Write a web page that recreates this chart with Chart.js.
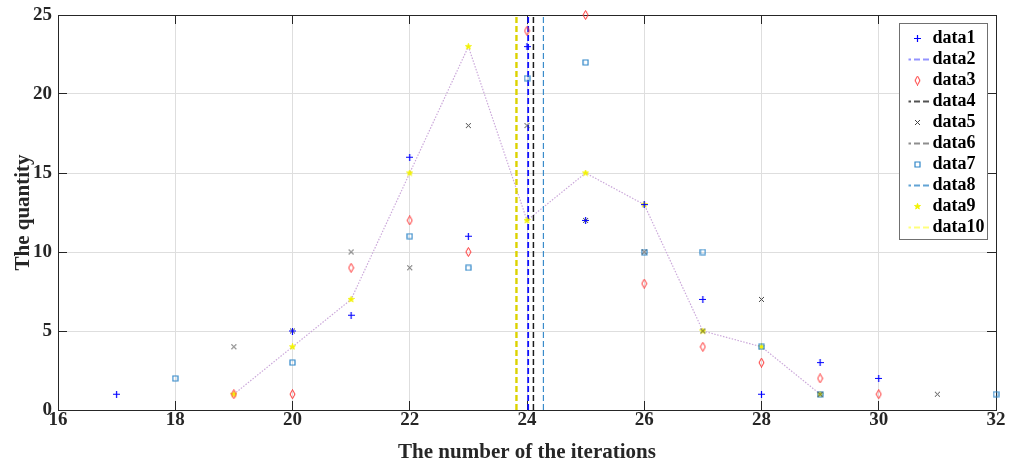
<!DOCTYPE html>
<html>
<head>
<meta charset="utf-8">
<script src="https://cdn.jsdelivr.net/npm/chart.js@4"></script>
<style>
  html, body { margin: 0; padding: 0; background: #fff; }
</style>
</head>
<body>
<canvas id="iterations-chart" width="1013" height="468"></canvas>
<script>
// Values

const data1X = [17, 20, 21, 22, 23, 24, 25, 26, 27, 28, 29, 30];
const data1Y = [1, 5, 6, 16, 11, 23, 12, 13, 7, 1, 3, 2];

const data3X = [19, 20, 21, 22, 23, 24, 25, 26, 27, 28, 29, 30];
const data3Y = [1, 1, 9, 12, 10, 24, 25, 8, 4, 3, 2, 1];

const data5X = [19, 20, 21, 22, 23, 24, 25, 26, 27, 28, 29, 31];
const data5Y = [4, 5, 10, 9, 18, 18, 12, 10, 5, 7, 1, 1];

const data7X = [18, 20, 22, 23, 24, 25, 26, 27, 28, 29, 32];
const data7Y = [2, 3, 11, 9, 21, 22, 10, 10, 4, 1, 1];

const data9X = [19, 20, 21, 22, 23, 24, 25, 26, 27, 28, 29];
const data9Y = [1, 4, 7, 15, 23, 12, 15, 13, 5, 4, 1];

// vertical reference lines (x position of each)
const data2X = 24.02;
const data4X = 24.11;
const data6X = 24.11;
const data8X = 24.28;
const data10X = 23.82;
const lineSpan = [0, 25];

const xTicks = { min: 16, max: 32, step: 2 };
const yTicks = { min: 0, max: 25, step: 5 };

// helpers

const pts = (xs, ys) => xs.map((x, i) => ({ x: x, y: ys[i] }));
const vline = (x) => lineSpan.map((y) => ({ x: x, y: y }));

function marker(kind, color, w, h, lw) {
  const c = document.createElement("canvas");
  c.width = w;
  c.height = h;
  const g = c.getContext("2d");
  g.strokeStyle = color;
  g.fillStyle = color;
  g.lineWidth = lw || 1;
  const cx = w / 2, cy = h / 2;
  g.beginPath();
  if (kind === "plus") {
    g.moveTo(0, cy); g.lineTo(w, cy);
    g.moveTo(cx, 0); g.lineTo(cx, h);
  } else if (kind === "cross") {
    g.moveTo(1, 1); g.lineTo(w - 1, h - 1);
    g.moveTo(w - 1, 1); g.lineTo(1, h - 1);
  } else if (kind === "diamond") {
    g.moveTo(cx, 0.5); g.lineTo(w - 1, cy);
    g.lineTo(cx, h - 0.5); g.lineTo(1, cy);
    g.closePath();
  } else if (kind === "square") {
    g.rect(1, 1, w - 2, h - 2);
  } else if (kind === "star") {
    const r = w / 2 - 0.3, ri = r * 0.42;
    for (let i = 0; i < 10; i++) {
      const rr = i % 2 ? ri : r;
      const a = -Math.PI / 2 + i * Math.PI / 5;
      g.lineTo(cx + rr * Math.cos(a), cy + rr * Math.sin(a));
    }
    g.closePath();
    g.fill();
  } else if (kind === "dash") {
    g.setLineDash([6, 3]);
    g.moveTo(0, cy); g.lineTo(w, cy);
  }
  g.stroke();
  return c;
}

const serif = "'Liberation Serif', 'Times New Roman', serif";
const ink = "#262626";

const scatterSet = (label, data, icon) => ({
  label: label,
  data: data,
  pointStyle: icon,
  pointRadius: 3,
  pointHoverRadius: 3,
  showLine: false,
  clip: false,
  order: 0,
});

const lineSet = (label, x, color, width, icon) => ({
  label: label,
  data: vline(x),
  showLine: true,
  borderColor: color,
  borderWidth: width,
  borderDash: [6, 3],
  pointRadius: 0,
  pointStyle: icon,
  order: 1,
});

const datasets = [
  scatterSet("data1", pts(data1X, data1Y), marker("plus", "#0000ff", 7, 7, 1.2)),
  lineSet("data2", data2X, "#1010ff", 1.8, marker("dash", "#7070ff", 25, 4, 1.4)),
  scatterSet("data3", pts(data3X, data3Y), marker("diamond", "#ff3030", 7, 10, 1)),
  lineSet("data4", data4X, "#1a1a1a", 1.3, marker("dash", "#1a1a1a", 25, 4, 1.4)),
  scatterSet("data5", pts(data5X, data5Y), marker("cross", "#444444", 7, 7, 1)),
  lineSet("data6", data6X, "#555555", 1.3, marker("dash", "#6a6a6a", 25, 4, 1.4)),
  scatterSet("data7", pts(data7X, data7Y), marker("square", "#2f86c8", 7, 7, 1.2)),
  lineSet("data8", data8X, "#3a8ccb", 1.2, marker("dash", "#2f86c8", 25, 4, 1.4)),
  scatterSet("data9", pts(data9X, data9Y), marker("star", "#f2f200", 7, 7, 0.8)),
  lineSet("data10", data10X, "#dcd200", 2.4, marker("dash", "#ffff50", 25, 4, 1.4)),
  {
    label: "trend",
    data: pts(data9X, data9Y),
    showLine: true,
    borderColor: "#cba8da",
    borderWidth: 1.2,
    borderDash: [1.5, 1.5],
    pointRadius: 0,
    order: 2,
  },
];

// legend sits inside the plot, top right, with a framed white box
const legendInside = {
  id: "legendInside",
  afterLayout(chart) {
    const area = chart.chartArea;
    const lg = chart.legend;
    lg.left = area.right - 87.5;
    lg.top = area.top + 11.5;
    lg.right = area.right;
    lg.bottom = area.top + 250;
    lg.width = lg.right - lg.left;
    lg.height = lg.bottom - lg.top;
  },
  afterDatasetsDraw(chart) {
    const area = chart.chartArea;
    const ctx = chart.ctx;
    ctx.save();
    ctx.fillStyle = "#ffffff";
    ctx.strokeStyle = "#707070";
    ctx.lineWidth = 1;
    ctx.fillRect(area.right - 97, area.top + 8, 88, 216);
    ctx.strokeRect(area.right - 96.5, area.top + 8.5, 88, 216);
    ctx.restore();
    chart.legend.draw();
  },
};

const noEdgePadding = (s) => {
  s.paddingTop = 0;
  s.paddingBottom = 0;
  s.paddingLeft = 0;
  s.paddingRight = 0;
};

new Chart(document.getElementById("iterations-chart"), {
  type: "scatter",
  data: { datasets: datasets },
  plugins: [legendInside],
  options: {
    responsive: false,
    animation: false,
    devicePixelRatio: 1,
    layout: { padding: 0 },
    plugins: {
      tooltip: { enabled: false },
      legend: {
        position: "chartArea",
        align: "start",
        labels: {
          usePointStyle: true,
          boxWidth: 12,
          boxHeight: 12,
          padding: 3,
          textAlign: "left",
          color: "#000",
          font: { family: serif, weight: "bold", size: 18 },
          filter: (item) => item.datasetIndex < 10,
          sort: (a, b) => a.datasetIndex - b.datasetIndex,
        },
      },
    },
    scales: {
      x: {
        type: "linear",
        position: "bottom",
        min: xTicks.min,
        max: xTicks.max,
        ticks: { stepSize: xTicks.step, color: ink, padding: 8, font: { family: serif, weight: "bold", size: 19 } },
        grid: { color: "#dedede", tickColor: ink, tickLength: -9 },
        border: { color: ink },
        title: {
          display: true,
          text: "The number of the iterations",
          color: ink,
          padding: { top: 0, bottom: 3 },
          font: { family: serif, weight: "bold", size: 21 },
        },
        afterFit: (s) => { s.height = 58; noEdgePadding(s); },
      },
      y: {
        type: "linear",
        position: "left",
        min: yTicks.min,
        max: yTicks.max,
        ticks: { stepSize: yTicks.step, color: ink, padding: 15, font: { family: serif, weight: "bold", size: 19 } },
        grid: { color: "#dedede", tickColor: ink, tickLength: -9 },
        border: { color: ink },
        title: {
          display: true,
          text: "The quantity",
          color: ink,
          padding: { top: 11, bottom: 0 },
          font: { family: serif, weight: "bold", size: 21 },
        },
        afterFit: (s) => { s.width = 58; noEdgePadding(s); },
      },
      x2: {
        type: "linear",
        position: "top",
        min: xTicks.min,
        max: xTicks.max,
        ticks: { stepSize: xTicks.step, display: false },
        grid: { drawOnChartArea: false, tickColor: ink, tickLength: -9 },
        border: { color: ink },
        afterFit: (s) => { s.height = 15; noEdgePadding(s); },
      },
      y2: {
        type: "linear",
        position: "right",
        min: yTicks.min,
        max: yTicks.max,
        ticks: { stepSize: yTicks.step, display: false },
        grid: { drawOnChartArea: false, tickColor: ink, tickLength: -9 },
        border: { color: ink },
        afterFit: (s) => { s.width = 17; noEdgePadding(s); },
      },
    },
  },
});
</script>
</body>
</html>
